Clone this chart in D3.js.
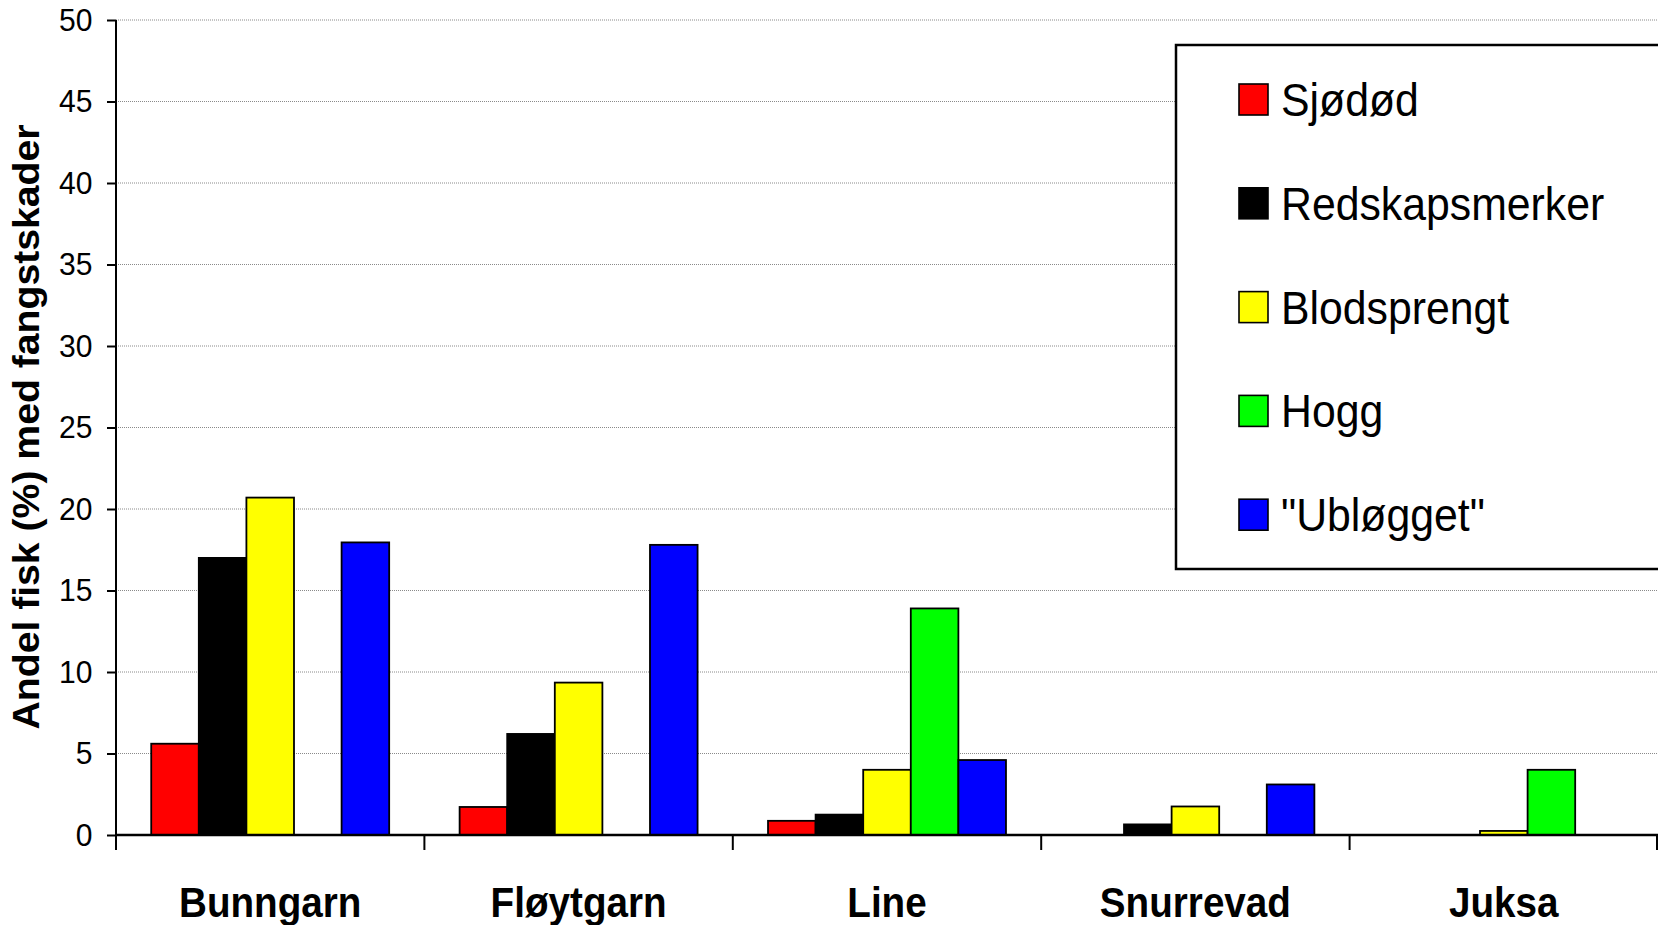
<!DOCTYPE html>
<html>
<head>
<meta charset="utf-8">
<script src="https://cdn.jsdelivr.net/npm/d3@7"></script>
<style>
  body { margin: 0; background: #fff; }
  text { font-family: "Liberation Sans", Arial, sans-serif; }
</style>
</head>
<body>
<div id="chart"></div>
<script>
// data
var categories = ["Bunngarn", "Fløytgarn", "Line", "Snurrevad", "Juksa"];
var seriesNames = ["Sjødød", "Redskapsmerker", "Blodsprengt", "Hogg", "\"Ubløgget\""];
var seriesColors = ["#ff0000", "#000000", "#ffff00", "#00ff00", "#0000ff"];
var sjodod = [5.6, 1.72, 0.87, 0, 0];
var redskapsmerker = [17.0, 6.2, 1.25, 0.65, 0];
var blodsprengt = [20.7, 9.35, 4.0, 1.75, 0.25];
var hogg = [0, 0, 13.9, 0, 4.0];
var ublogget = [17.95, 17.8, 4.6, 3.1, 0];
var yTicks = [0, 5, 10, 15, 20, 25, 30, 35, 40, 45, 50];

var seriesValues = [sjodod, redskapsmerker, blodsprengt, hogg, ublogget];

var Width = 1658;
var Height = 925;
// plot area
var plotLeft = 116, plotRight = 1658, plotTop = 20, plotBottom = 835;

var svg = d3.select("#chart")
  .append("svg")
  .attr("width", Width)
  .attr("height", Height);

var x0 = d3.scaleBand().domain(categories).range([plotLeft, plotRight]).padding(0);
var x1 = d3.scaleBand().domain(seriesNames).range([0, x0.bandwidth()])
  .paddingInner(0).paddingOuter(0.74);
var y = d3.scaleLinear().domain([0, 50]).range([plotBottom, plotTop]);

// gridlines
svg.append("g")
  .selectAll("line")
  .data(yTicks.filter(function(d) { return d > 0; }))
  .enter()
  .append("line")
  .attr("x1", plotLeft)
  .attr("x2", plotRight)
  .attr("y1", function(d) { return y(d); })
  .attr("y2", function(d) { return y(d); })
  .attr("stroke", "#8a8a8a")
  .attr("stroke-width", 1)
  .attr("stroke-dasharray", "1,1");

// bars (zero values are not drawn)
var rows = [];
categories.forEach(function(c, i) {
  seriesNames.forEach(function(s, j) {
    if (seriesValues[j][i] > 0) {
      rows.push({cat: c, name: s, color: seriesColors[j], value: seriesValues[j][i]});
    }
  });
});

svg.append("g")
  .selectAll("rect")
  .data(rows)
  .enter()
  .append("rect")
  .attr("x", function(d) { return x0(d.cat) + x1(d.name); })
  .attr("y", function(d) { return y(d.value); })
  .attr("width", x1.bandwidth())
  .attr("height", function(d) { return y(0) - y(d.value); })
  .attr("fill", function(d) { return d.color; })
  .attr("stroke", "#000")
  .attr("stroke-width", 1.8);

// y axis
var yAxis = d3.axisLeft(y).tickValues(yTicks).tickSize(9).tickPadding(16);
var yg = svg.append("g")
  .attr("transform", "translate(" + plotLeft + ",0)")
  .call(yAxis);
yg.select(".domain").remove();
yg.selectAll(".tick line").attr("stroke", "#000").attr("stroke-width", 2);
yg.selectAll(".tick text")
  .attr("font-size", 32)
  .attr("fill", "#000")
  .attr("transform", "scale(0.94,1)")
  .style("font-family", "'Liberation Sans', Arial, sans-serif");
svg.append("line")
  .attr("x1", plotLeft).attr("x2", plotLeft)
  .attr("y1", plotTop).attr("y2", plotBottom + 15)
  .attr("stroke", "#000").attr("stroke-width", 2);

// x axis
svg.append("line")
  .attr("x1", plotLeft).attr("x2", plotRight)
  .attr("y1", plotBottom).attr("y2", plotBottom)
  .attr("stroke", "#000").attr("stroke-width", 2.5);

var bounds = categories.map(function(c) { return x0(c); }).concat([plotRight - 1]);
svg.append("g")
  .selectAll("line")
  .data(bounds.slice(1))
  .enter()
  .append("line")
  .attr("x1", function(d) { return d; })
  .attr("x2", function(d) { return d; })
  .attr("y1", plotBottom)
  .attr("y2", plotBottom + 15)
  .attr("stroke", "#000")
  .attr("stroke-width", 2);

svg.append("g")
  .selectAll("text")
  .data(categories)
  .enter()
  .append("text")
  .attr("transform", function(d) {
    return "translate(" + (x0(d) + x0.bandwidth() / 2) + ",917) scale(0.92,1)";
  })
  .attr("text-anchor", "middle")
  .attr("font-size", 42)
  .attr("font-weight", "bold")
  .text(function(d) { return d; });

// y title
svg.append("text")
  .attr("transform", "translate(39,427) rotate(-90)")
  .attr("text-anchor", "middle")
  .attr("font-size", 37)
  .attr("font-weight", "bold")
  .attr("textLength", 605)
  .attr("lengthAdjust", "spacingAndGlyphs")
  .text("Andel fisk (%) med fangstskader");

// legend
var legend = svg.append("g");
legend.append("rect")
  .attr("x", 1176).attr("y", 45)
  .attr("width", 520).attr("height", 524)
  .attr("fill", "#fff")
  .attr("stroke", "#000")
  .attr("stroke-width", 2.5);

var item = legend.selectAll("g.item")
  .data(seriesNames)
  .enter()
  .append("g")
  .attr("class", "item")
  .attr("transform", function(d, i) { return "translate(1239," + (116 + i * 103.8) + ")"; });

item.append("rect")
  .attr("x", 0).attr("y", -32)
  .attr("width", 29).attr("height", 31)
  .attr("fill", function(d, i) { return seriesColors[i]; })
  .attr("stroke", "#000")
  .attr("stroke-width", 1.6);

item.append("text")
  .attr("transform", "translate(42,0) scale(0.91,1)")
  .attr("font-size", 47)
  .text(function(d) { return d; });
</script>
</body>
</html>
